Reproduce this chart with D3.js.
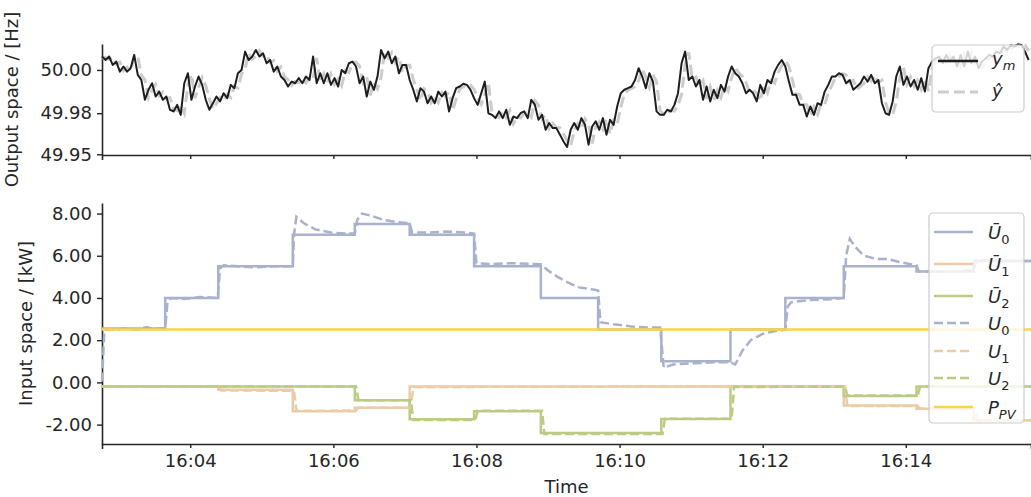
<!DOCTYPE html>
<html>
<head>
<meta charset="utf-8">
<script src="https://d3js.org/d3.v7.min.js"></script>
<style>
  body { margin: 0; background: #fff; }
  svg text { font-family: "DejaVu Sans", sans-serif; fill: #262626; }
</style>
</head>
<body>
<svg id="chart" width="1031" height="497"></svg>
<script>
// times are seconds after 16:00:00
var tStart = 166, tEnd = 945;
var ymStep = 3; // sample period of the frequency traces (s)

// measured frequency y_m (Hz)
var ym = [
  50.0078,50.0059,50.0078,50.0032,50.0050,49.9995,50.0023,49.9995,50.0014,50.0087,
  49.9977,49.9949,49.9840,49.9895,49.9931,49.9858,49.9885,49.9840,49.9858,49.9785,
  49.9776,49.9812,49.9757,49.9931,49.9986,49.9840,49.9913,49.9968,49.9922,49.9840,
  49.9785,49.9821,49.9858,49.9831,49.9876,49.9849,49.9922,49.9904,49.9986,50.0004,
  50.0105,50.0059,50.0078,50.0114,50.0078,50.0096,50.0041,50.0059,49.9995,50.0023,
  49.9968,49.9949,49.9913,49.9940,49.9931,49.9959,49.9931,49.9968,49.9949,50.0078,
  49.9931,49.9986,49.9931,49.9986,49.9922,49.9959,49.9913,50.0004,49.9986,50.0041,
  50.0050,50.0023,49.9931,49.9968,49.9858,49.9940,49.9895,49.9968,50.0114,50.0068,
  50.0105,50.0041,50.0078,49.9986,50.0032,50.0032,49.9949,49.9895,49.9831,49.9904,
  49.9885,49.9821,49.9858,49.9821,49.9885,49.9858,49.9885,49.9776,49.9849,49.9904,
  49.9913,49.9928,49.9922,49.9895,49.9849,49.9812,49.9876,49.9940,49.9766,49.9757,
  49.9739,49.9776,49.9739,49.9785,49.9702,49.9748,49.9739,49.9766,49.9776,49.9739,
  49.9840,49.9812,49.9730,49.9757,49.9675,49.9712,49.9684,49.9684,49.9648,49.9610,
  49.9580,49.9675,49.9712,49.9675,49.9739,49.9702,49.9593,49.9693,49.9721,49.9675,
  49.9739,49.9648,49.9730,49.9702,49.9803,49.9876,49.9895,49.9904,49.9913,49.9949,
  50.0014,49.9968,49.9904,49.9986,49.9940,49.9776,49.9757,49.9757,49.9785,49.9776,
  49.9812,49.9876,50.0041,50.0105,49.9949,49.9968,49.9913,49.9949,49.9840,49.9913,
  49.9831,49.9895,49.9849,49.9922,49.9885,49.9968,50.0023,49.9986,49.9968,49.9931,
  49.9876,49.9895,49.9876,49.9831,49.9922,49.9876,49.9949,49.9931,49.9995,50.0032,
  50.0059,50.0023,49.9940,49.9867,49.9867,49.9812,49.9812,49.9748,49.9803,49.9757,
  49.9821,49.9812,49.9885,49.9922,49.9968,49.9968,49.9986,49.9977,49.9931,49.9949,
  49.9895,49.9913,49.9931,49.9968,49.9940,49.9977,49.9931,49.9949,49.9821,49.9766,
  49.9757,49.9831,49.9968,50.0023,49.9922,49.9968,49.9913,49.9949,49.9895,49.9959,
  49.9885,50.0014,50.0050,50.0068,50.0078,50.0041,50.0087,50.0050,50.0078,50.0023,
  50.0087,50.0023,50.0105,50.0041,50.0078,50.0014,50.0050,50.0068,50.0087,50.0078,
  50.0105,50.0096,50.0133,50.0114,50.0140,50.0133,50.0145,50.0142,50.0105,50.0059
];

// predicted frequency y-hat (Hz)
var yHat = [
  50.0070,50.0074,50.0062,50.0074,50.0036,50.0047,50.0000,50.0020,49.9998,50.0080,
  50.0080,49.9975,49.9950,49.9850,49.9892,49.9925,49.9862,49.9882,49.9845,49.9852,
  49.9790,49.9780,49.9808,49.9765,49.9920,49.9980,49.9848,49.9908,49.9962,49.9918,
  49.9845,49.9790,49.9820,49.9852,49.9835,49.9870,49.9852,49.9915,49.9905,49.9980,
  50.0010,50.0098,50.0062,50.0080,50.0110,50.0080,50.0092,50.0045,50.0055,49.9998,
  50.0020,49.9968,49.9950,49.9918,49.9940,49.9932,49.9955,49.9932,49.9965,49.9955,
  50.0070,49.9935,49.9982,49.9935,49.9982,49.9925,49.9955,49.9918,50.0000,49.9990,
  50.0040,50.0048,50.0025,49.9935,49.9965,49.9865,49.9935,49.9900,49.9962,50.0105,
  50.0070,50.0100,50.0045,50.0075,49.9990,50.0030,50.0030,49.9952,49.9898,49.9835,
  49.9900,49.9885,49.9825,49.9855,49.9825,49.9880,49.9858,49.9882,49.9782,49.9845,
  49.9900,49.9912,49.9926,49.9920,49.9898,49.9852,49.9815,49.9872,49.9935,49.9770,
  49.9760,49.9742,49.9772,49.9742,49.9780,49.9708,49.9745,49.9740,49.9765,49.9772,
  49.9745,49.9835,49.9810,49.9735,49.9755,49.9680,49.9710,49.9686,49.9686,49.9652,
  49.9615,49.9585,49.9670,49.9708,49.9678,49.9735,49.9705,49.9600,49.9690,49.9718,
  49.9678,49.9735,49.9652,49.9726,49.9705,49.9798,49.9870,49.9892,49.9902,49.9912,
  49.9945,50.0010,49.9965,49.9908,49.9980,49.9940,49.9780,49.9760,49.9758,49.9782,
  49.9778,49.9810,49.9870,50.0035,50.0100,49.9955,49.9965,49.9915,49.9945,49.9845,
  49.9910,49.9835,49.9892,49.9852,49.9918,49.9888,49.9962,50.0018,49.9988,49.9968,
  49.9935,49.9880,49.9892,49.9878,49.9835,49.9918,49.9878,49.9945,49.9932,49.9990,
  50.0028,50.0055,50.0025,49.9945,49.9870,49.9868,49.9815,49.9812,49.9752,49.9800,
  49.9760,49.9818,49.9812,49.9880,49.9918,49.9965,49.9968,49.9984,49.9977,49.9935,
  49.9948,49.9898,49.9912,49.9930,49.9965,49.9942,49.9975,49.9933,49.9948,49.9825,
  49.9768,49.9758,49.9828,49.9962,50.0018,49.9925,49.9965,49.9915,49.9946,49.9898,
  49.9955,49.9888,50.0010,50.0048,50.0066,50.0076,50.0043,50.0084,50.0052,50.0075,
  50.0028,50.0084,50.0026,50.0100,50.0044,50.0075,50.0018,50.0048,50.0066,50.0085,
  50.0080,50.0102,50.0096,50.0130,50.0115,50.0138,50.0132,50.0142,50.0140,50.0108
];

// set-points (kW), each level holds from stepTimes[i] until the next step
var stepTimes = [166, 219, 263.5, 326, 378, 424, 478, 534, 582, 635, 693, 739, 788, 849, 897];
var u0Bar = [2.55, 4.0, 5.5, 7.0, 7.5, 7.0, 5.5, 4.0, 2.5, 1.0, 2.5, 4.0, 5.5, 5.25, 5.75];
var u1Bar = [-0.2, -0.2, -0.35, -1.37, -1.2, -0.2, -0.2, -0.2, -0.2, -0.2, -0.2, -0.2, -1.1, -1.25, -1.8];
var u2Bar = [-0.2, -0.2, -0.2, -0.2, -0.85, -1.75, -1.37, -2.4, -2.4, -1.73, -0.2, -0.2, -0.65, -0.2, -0.2];

// measured inputs (kW) as [time, value]
var u0Meas = [[166,0.05],[168,2.5],[175,2.5],[185,2.55],[195,2.5],[203,2.62],[208,2.55],[219,2.55],[221,3.85],[224,4.0],
  [235,3.95],[248,4.05],[263,4.0],[265,5.4],[268,5.55],[280,5.5],[295,5.45],[310,5.5],[326,5.5],[327,7.0],
  [329,7.85],[335,7.55],[345,7.25],[358,7.1],[372,7.05],[378,7.05],[380,7.7],[384,8.0],[392,7.9],[402,7.7],
  [412,7.6],[424,7.55],[426,7.1],[440,7.1],[455,7.15],[470,7.1],[478,7.05],[480,5.65],[492,5.6],[510,5.65],
  [534,5.6],[540,5.3],[548,5.0],[556,4.75],[566,4.5],[578,4.4],[582,4.35],[584,2.85],[595,2.75],[610,2.65],
  [625,2.6],[634,2.6],[637,0.7],[645,0.85],[660,0.9],[680,0.95],[693,0.95],[697,0.85],[703,1.5],[710,2.0],
  [720,2.3],[732,2.45],[739,2.5],[741,3.6],[744,3.8],[760,3.9],[780,3.95],[788,4.0],[790,6.0],[793,6.8],
  [798,6.4],[805,6.0],[815,5.85],[825,5.85],[835,5.7],[849,5.55],[851,5.25],[870,5.25],[897,5.3],[899,5.8],
  [920,5.75],[945,5.75]];
var u1Meas = [[166,-0.2],[264,-0.2],[266,-0.38],[327,-0.4],[329,-1.35],[379,-1.33],[381,-1.2],[425,-1.2],[427,-0.22],
  [600,-0.2],[789,-0.2],[791,-1.12],[850,-1.12],[852,-1.25],[898,-1.25],[900,-1.8],[945,-1.8]];
var u2Meas = [[166,-0.2],[379,-0.2],[381,-0.85],[425,-0.85],[427,-1.78],[479,-1.78],[481,-1.35],[535,-1.35],[537,-2.45],
  [636,-2.45],[638,-1.72],[694,-1.72],[696,-0.22],[789,-0.2],[791,-0.62],[850,-0.62],[852,-0.2],[945,-0.2]];

var pvTimes = [166, 945];
var pvVals = [2.5, 2.5];

var freqTicks = [49.954, 49.9766, 50.0004];
var powerTicks = [-2, 0, 2, 4, 6, 8];

var colU0 = "#aab1cc", colU1 = "#ebcca6", colU2 = "#bccb83", colPV = "#fbd442";

function toDate(s) { return new Date(2020, 0, 1, 16, 0, 0, Math.round(s * 1000)); }

var svg = d3.select("#chart");
var left = 102, right = 1031;

var x = d3.scaleTime().domain([toDate(tStart), toDate(tEnd)]).range([left, right]);
var yTop = d3.scaleLinear().domain([49.9536, 50.0147]).range([155, 44]);
var yBot = d3.scaleLinear().domain([-2.92, 8.5]).range([444, 203]);

function styleAxis(g) {
  g.select(".domain").attr("stroke", "#262626").attr("stroke-width", 1.6);
  g.selectAll(".tick line").attr("stroke", "#262626").attr("stroke-width", 1.4);
  g.selectAll(".tick text").style("font-size", "18px").attr("fill", "#262626");
}

// ---- top panel: output space ----
svg.append("g")
  .attr("transform", "translate(" + left + ",0)")
  .call(d3.axisLeft(yTop).tickValues(freqTicks).tickFormat(d3.format(".2f")).tickSize(5).tickSizeOuter(0).tickPadding(5))
  .call(styleAxis);
svg.append("g")
  .attr("transform", "translate(0,155)")
  .call(d3.axisBottom(x).ticks(d3.timeMinute.every(2)).tickFormat("").tickSize(4).tickSizeOuter(5))
  .call(styleAxis);

var lineTop = d3.line()
  .x(function(d, i) { return x(toDate(tStart + i * ymStep)); })
  .y(function(d) { return yTop(d); });

svg.append("path").datum(yHat)
  .attr("d", lineTop).attr("fill", "none")
  .attr("stroke", "#cccccc").attr("stroke-width", 3).attr("stroke-dasharray", "11,5");
svg.append("path").datum(ym)
  .attr("d", lineTop).attr("fill", "none")
  .attr("stroke", "#1e1e1e").attr("stroke-width", 2).attr("stroke-linejoin", "round");

svg.append("text")
  .attr("transform", "translate(18,99.5) rotate(-90)")
  .attr("text-anchor", "middle")
  .style("font-size", "18px")
  .text("Output space / [Hz]");

// ---- bottom panel: input space ----
svg.append("g")
  .attr("transform", "translate(" + left + ",0)")
  .call(d3.axisLeft(yBot).tickValues(powerTicks).tickFormat(function(d) { return d.toFixed(2); }).tickSize(5).tickSizeOuter(0).tickPadding(5))
  .call(styleAxis);
svg.append("g")
  .attr("transform", "translate(0,444)")
  .call(d3.axisBottom(x).ticks(d3.timeMinute.every(2)).tickFormat(d3.timeFormat("%H:%M")).tickSize(4).tickSizeOuter(5).tickPadding(6))
  .call(styleAxis);

svg.append("text")
  .attr("transform", "translate(32,323.5) rotate(-90)")
  .attr("text-anchor", "middle")
  .style("font-size", "18px")
  .text("Input space / [kW]");
svg.append("text")
  .attr("x", (left + right) / 2).attr("y", 493)
  .attr("text-anchor", "middle")
  .style("font-size", "18px")
  .text("Time");

function stepData(levels) {
  var pts = stepTimes.map(function(t, i) { return [t, levels[i]]; });
  pts.push([tEnd, levels[levels.length - 1]]);
  return pts;
}
var stepLine = d3.line().curve(d3.curveStepAfter)
  .x(function(d) { return x(toDate(d[0])); })
  .y(function(d) { return yBot(d[1]); });
var measLine = d3.line()
  .x(function(d) { return x(toDate(d[0])); })
  .y(function(d) { return yBot(d[1]); });

var series = [
  { data: stepData(u0Bar), gen: stepLine, color: colU0, dash: null },
  { data: stepData(u1Bar), gen: stepLine, color: colU1, dash: null },
  { data: stepData(u2Bar), gen: stepLine, color: colU2, dash: null },
  { data: u0Meas, gen: measLine, color: colU0, dash: "9,4" },
  { data: u1Meas, gen: measLine, color: colU1, dash: "9,4" },
  { data: u2Meas, gen: measLine, color: colU2, dash: "9,4" },
  { data: pvTimes.map(function(t, i) { return [t, pvVals[i]]; }), gen: measLine, color: colPV, dash: null }
];
series.forEach(function(s) {
  svg.append("path").datum(s.data)
    .attr("d", s.gen).attr("fill", "none")
    .attr("stroke", s.color).attr("stroke-width", 2.5)
    .attr("stroke-dasharray", s.dash);
});

// ---- legends ----
function legendBox(x0, y0, w, h) {
  svg.append("rect").attr("x", x0).attr("y", y0).attr("width", w).attr("height", h)
    .attr("rx", 4).attr("fill", "#fff").attr("fill-opacity", 0.8)
    .attr("stroke", "#cccccc").attr("stroke-width", 1.2);
}
function legendLabel(tx, ty, main, sub, subItalic) {
  var t = svg.append("text").attr("x", tx).attr("y", ty).style("font-size", "18px");
  t.append("tspan").style("font-style", "italic").text(main);
  if (sub) {
    t.append("tspan").attr("dy", 5).style("font-size", "13px")
      .style("font-style", subItalic ? "italic" : "normal").text(sub);
  }
}

legendBox(932, 45, 92, 67);
svg.append("line").attr("x1", 938).attr("x2", 978).attr("y1", 61).attr("y2", 61)
  .attr("stroke", "#1e1e1e").attr("stroke-width", 2.5);
svg.append("line").attr("x1", 938).attr("x2", 978).attr("y1", 92).attr("y2", 92)
  .attr("stroke", "#cccccc").attr("stroke-width", 3).attr("stroke-dasharray", "11,5");
legendLabel(992, 65, "y", "m", true);
legendLabel(992, 97, "\u0177", null);

legendBox(929, 213, 95, 210);
var legItems = [
  { y: 232, color: colU0, dash: null, main: "\u016A", sub: "0", it: false },
  { y: 264, color: colU1, dash: null, main: "\u016A", sub: "1", it: false },
  { y: 296, color: colU2, dash: null, main: "\u016A", sub: "2", it: false },
  { y: 323, color: colU0, dash: "9,4", main: "U", sub: "0", it: false },
  { y: 351, color: colU1, dash: "9,4", main: "U", sub: "1", it: false },
  { y: 378, color: colU2, dash: "9,4", main: "U", sub: "2", it: false },
  { y: 407, color: colPV, dash: null, main: "P", sub: "PV", it: true }
];
legItems.forEach(function(d) {
  svg.append("line").attr("x1", 934).attr("x2", 973).attr("y1", d.y).attr("y2", d.y)
    .attr("stroke", d.color).attr("stroke-width", 2.5).attr("stroke-dasharray", d.dash);
  legendLabel(988, d.y + 7, d.main, d.sub, d.it);
});
</script>
</body>
</html>
